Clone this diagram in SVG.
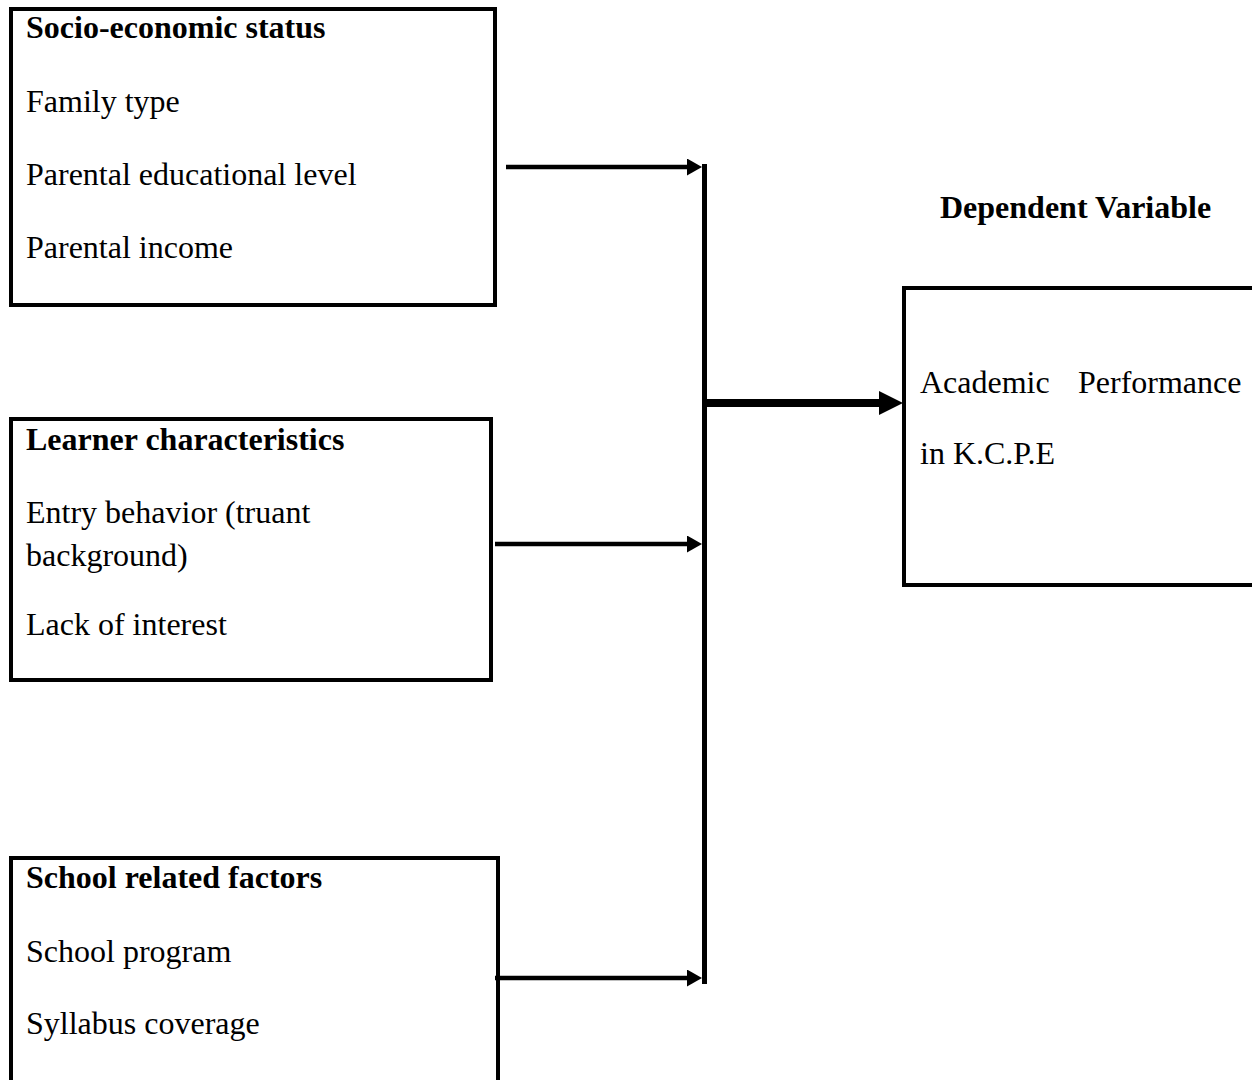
<svg xmlns="http://www.w3.org/2000/svg" width="1252" height="1080" viewBox="0 0 1252 1080">
<style>
.box{fill:#fff;stroke:#000;stroke-width:4}
.t{font-family:"Liberation Serif","Times New Roman",serif;font-size:32px;fill:#000}
.b{font-weight:bold}
.c{stroke:#000;fill:none}
</style>
<defs>
<marker id="arr" markerUnits="userSpaceOnUse" markerWidth="15" markerHeight="17" refX="3" refY="8.5" orient="auto">
<path d="M0,0 L15,8.5 L0,17 z" fill="#000"/>
</marker>
<marker id="arrBig" markerUnits="userSpaceOnUse" markerWidth="24" markerHeight="24" refX="4" refY="12" orient="auto">
<path d="M0,0 L24,12 L0,24 z" fill="#000"/>
</marker>
</defs>
<rect width="1252" height="1080" fill="#fff"/>
<g id="node-ses">
<rect class="box" x="11" y="9" width="484" height="296"/>
<text class="t b" x="26" y="38">Socio-economic status</text>
<text class="t" x="26" y="112">Family type</text>
<text class="t" x="26" y="185">Parental educational level</text>
<text class="t" x="26" y="258">Parental income</text>
</g>
<g id="node-learner">
<rect class="box" x="11" y="419" width="480" height="261"/>
<text class="t b" x="26" y="450">Learner characteristics</text>
<text class="t" x="26" y="523">Entry behavior (truant</text>
<text class="t" x="26" y="566">background)</text>
<text class="t" x="26" y="635">Lack of interest</text>
</g>
<g id="node-school">
<rect class="box" x="11" y="858" width="487" height="260"/>
<text class="t b" x="26" y="888">School related factors</text>
<text class="t" x="26" y="962">School program</text>
<text class="t" x="26" y="1034">Syllabus coverage</text>
</g>
<g id="label-dependent">
<text class="t b" x="940" y="218">Dependent Variable</text>
</g>
<g id="node-performance">
<rect class="box" x="904" y="288" width="400" height="297"/>
<text class="t" y="393"><tspan x="920">Academic</tspan><tspan x="1078">Performance</tspan></text>
<text class="t" x="920" y="464">in K.C.P.E</text>
</g>
<g id="connectors">
<line class="c" x1="704.5" y1="164" x2="704.5" y2="984" stroke-width="5"/>
<line class="c" x1="506" y1="167" x2="690" y2="167" stroke-width="4.5" marker-end="url(#arr)"/>
<line class="c" x1="495" y1="544" x2="690" y2="544" stroke-width="4.5" marker-end="url(#arr)"/>
<line class="c" x1="495" y1="978" x2="690" y2="978" stroke-width="4.5" marker-end="url(#arr)"/>
<line class="c" x1="705" y1="403" x2="883" y2="403" stroke-width="8" marker-end="url(#arrBig)"/>
</g>
</svg>
